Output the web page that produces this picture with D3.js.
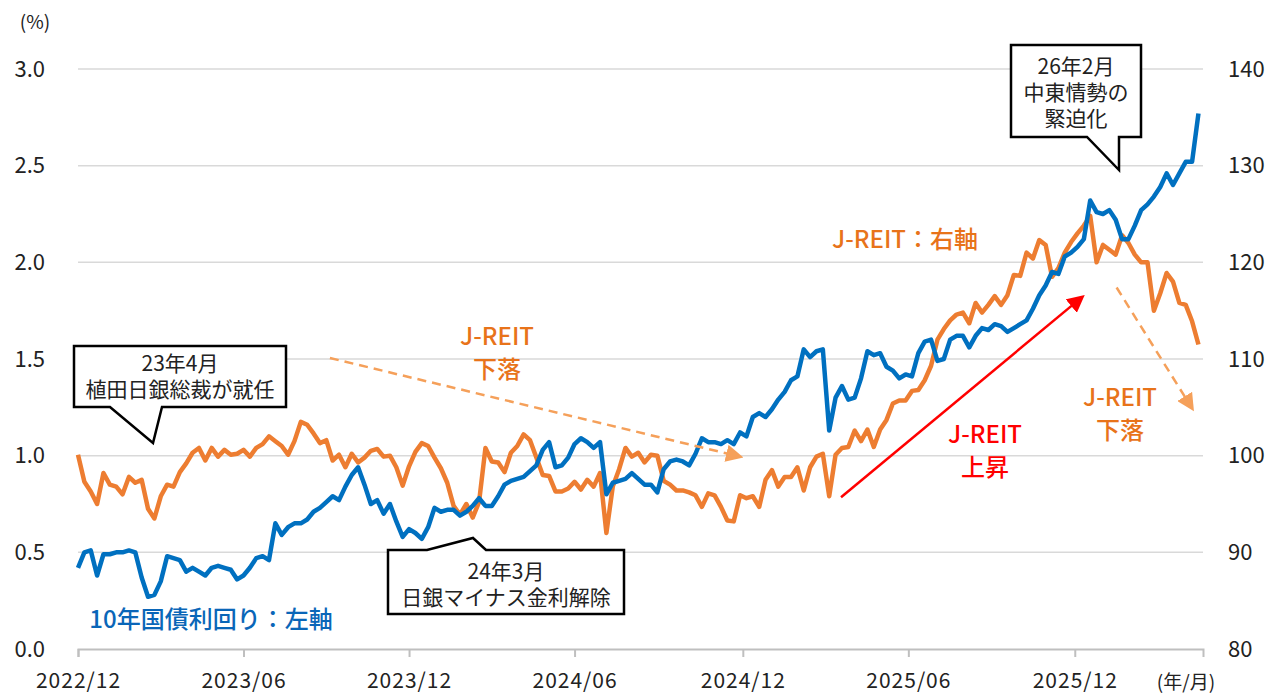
<!DOCTYPE html>
<html>
<head>
<meta charset="utf-8">
<script src="https://cdn.jsdelivr.net/npm/d3@7/dist/d3.min.js"></script>
<style>
  html, body { margin: 0; padding: 0; background: #fff; }
  svg { display: block; font-family: "Noto Sans CJK JP", "Noto Sans", sans-serif; }
</style>
</head>
<body>
<div id="chart"></div>
<script>
// weekly closes from 2022/12/30
const startDate = '2022-12-30'
const endDate = '2026-05-20'

// 10年国債利回り (%), left axis
const jgbYield = [
  0.42, 0.50, 0.51, 0.38, 0.49, 0.49, 0.50, 0.50, 0.51, 0.50,
  0.37, 0.27, 0.28, 0.35, 0.48, 0.47, 0.46, 0.40, 0.42, 0.40,
  0.38, 0.42, 0.43, 0.42, 0.41, 0.36, 0.38, 0.42, 0.47, 0.48,
  0.46, 0.65, 0.59, 0.63, 0.65, 0.65, 0.67, 0.71, 0.73, 0.76,
  0.79, 0.77, 0.84, 0.90, 0.94, 0.85, 0.75, 0.77, 0.70, 0.75,
  0.66, 0.58, 0.62, 0.60, 0.57, 0.63, 0.73, 0.71, 0.72, 0.72,
  0.69, 0.71, 0.74, 0.78, 0.74, 0.74, 0.79, 0.85, 0.87, 0.88,
  0.89, 0.92, 0.95, 1.03, 1.07, 0.94, 0.95, 0.99, 1.06, 1.09,
  1.07, 1.04, 1.07, 0.80, 0.86, 0.87, 0.88, 0.91, 0.88, 0.85,
  0.85, 0.81, 0.93, 0.97, 0.98, 0.97, 0.95, 1.01, 1.09, 1.07,
  1.07, 1.06, 1.08, 1.06, 1.12, 1.10, 1.20, 1.22, 1.20, 1.24,
  1.29, 1.33, 1.39, 1.41, 1.55, 1.51, 1.54, 1.55, 1.13, 1.30,
  1.36, 1.29, 1.30, 1.40, 1.54, 1.52, 1.53, 1.46, 1.44, 1.40,
  1.42, 1.41, 1.53, 1.59, 1.60, 1.49, 1.50, 1.60, 1.62, 1.62,
  1.56, 1.62, 1.66, 1.65, 1.68, 1.67, 1.64, 1.66, 1.68, 1.70,
  1.76, 1.83, 1.88, 1.95, 1.94, 2.03, 2.05, 2.08, 2.12, 2.32,
  2.26, 2.25, 2.27, 2.22, 2.12, 2.12, 2.19, 2.27, 2.30, 2.34,
  2.39, 2.46, 2.40, 2.46, 2.52, 2.52, 2.77
]

// J-REIT指数 (2022/12/30 = 100), right axis
const jreitIndex = [
  100.1, 97.3, 96.3, 95.0, 98.2, 97.0, 96.8, 96.0, 97.8, 97.2,
  97.5, 94.5, 93.5, 95.8, 97.0, 96.8, 98.3, 99.2, 100.3, 100.8,
  99.5, 100.8, 99.9, 100.6, 100.1, 100.2, 100.6, 99.9, 100.8, 101.2,
  102.0, 101.5, 101.0, 100.1, 101.5, 103.5, 103.2, 102.3, 101.3, 101.6,
  99.5, 100.1, 98.8, 100.2, 99.3, 99.8, 100.5, 100.7, 99.9, 100.0,
  98.8, 96.9, 98.9, 100.4, 101.3, 101.0, 99.8, 98.7, 97.2, 94.8,
  93.9, 95.0, 93.6, 95.2, 100.8, 99.4, 99.3, 98.3, 100.3, 101.0,
  102.2, 101.6, 99.8, 98.0, 97.9, 96.3, 96.3, 96.6, 97.3, 96.5,
  97.5, 96.8, 98.2, 92.0, 96.8, 98.6, 100.8, 99.9, 100.3, 99.3,
  100.1, 100.0, 97.4, 97.0, 96.4, 96.4, 96.2, 95.9, 94.7, 96.1,
  95.9, 94.7, 93.3, 93.2, 95.9, 95.6, 95.8, 94.7, 97.5, 98.5,
  96.8, 97.8, 97.8, 98.8, 96.4, 98.8, 99.9, 100.2, 95.8, 100.1,
  100.8, 100.9, 102.6, 101.5, 102.7, 100.9, 102.7, 103.7, 105.4, 105.7,
  105.7, 106.7, 106.8, 107.8, 109.3, 112.0, 113.1, 114.0, 114.6, 114.8,
  113.7, 115.8, 114.8, 115.6, 116.5, 115.6, 116.6, 118.7, 118.6, 121.0,
  120.4, 122.3, 121.8, 118.5, 119.4, 121.0, 122.1, 123.0, 123.8, 124.8,
  120.0, 121.8, 121.3, 120.8, 122.8, 122.0, 120.8, 120.0, 120.0, 115.0,
  116.8, 118.9, 118.0, 115.8, 115.6, 113.9, 111.5
]

const tickDates = ['2022-12-30', '2023-06-30', '2023-12-29', '2024-06-28', '2024-12-30', '2025-06-30', '2025-12-30']
const leftTicks = [0, 0.5, 1, 1.5, 2, 2.5, 3]
const rightTicks = [80, 90, 100, 110, 120, 130, 140]

// arrows in (date, J-REIT value)
const trendArrows = [
  { from: ['2023-10-03', 110.1], to: ['2024-12-27', 99.9], color: '#f5a05a', dash: '9,6', width: 2.5 },
  { from: ['2025-04-17', 95.7], to: ['2026-01-07', 116.4], color: '#ff0000', dash: null, width: 2.5 },
  { from: ['2026-02-14', 117.4], to: ['2026-05-08', 104.9], color: '#f5a05a', dash: '9,6', width: 2.5 }
]

const width = 1282,
      height = 695,
      plot = { left: 78, right: 1203, top: 69, bottom: 649 },
      orange = '#ed7d31',
      blue = '#0070c0',
      axisFont = 21

const parse = d3.timeParse('%Y-%m-%d')
const start = parse(startDate)
const dates = jgbYield.map((d, i) => d3.timeDay.offset(start, i * 7))

const svg = d3.select('#chart')
  .append('svg')
  .attr('width', width)
  .attr('height', height)

const x = d3.scaleTime()
  .domain([start, parse(endDate)])
  .range([plot.left, plot.right])
const yL = d3.scaleLinear().domain([0, 3]).range([plot.bottom, plot.top])
const yR = d3.scaleLinear().domain([80, 140]).range([plot.bottom, plot.top])

// grid
svg.append('g')
  .selectAll('line')
  .data(leftTicks.slice(1))
  .enter()
  .append('line')
    .attr('x1', plot.left)
    .attr('x2', plot.right)
    .attr('y1', d => yL(d))
    .attr('y2', d => yL(d))
    .attr('stroke', '#d9d9d9')
    .attr('stroke-width', 1.5)

// x axis
const xAxis = svg.append('g')
  .attr('transform', `translate(0, ${plot.bottom})`)
  .call(d3.axisBottom(x)
    .tickValues(tickDates.map(parse))
    .tickFormat(d3.timeFormat('%Y/%m'))
    .tickSize(8)
    .tickPadding(16))
xAxis.select('.domain').attr('stroke', '#bfbfbf').attr('stroke-width', 2)
xAxis.selectAll('.tick line').attr('stroke', '#bfbfbf').attr('stroke-width', 2)
xAxis.selectAll('.tick text')
  .attr('font-size', axisFont)
  .attr('letter-spacing', 1)
  .attr('fill', '#222')
  .attr('font-family', '"Noto Sans CJK JP", sans-serif')

const yAxisL = svg.append('g')
  .attr('transform', `translate(${plot.left}, 0)`)
  .call(d3.axisLeft(yL).tickValues(leftTicks).tickFormat(d3.format('.1f')).tickSize(0).tickPadding(33))
yAxisL.select('.domain').remove()
yAxisL.selectAll('.tick text')
  .attr('font-size', 22)
  .attr('fill', '#222')
  .attr('font-family', '"Noto Sans CJK JP", sans-serif')

const yAxisR = svg.append('g')
  .attr('transform', `translate(${plot.right}, 0)`)
  .call(d3.axisRight(yR).tickValues(rightTicks).tickSize(0).tickPadding(25))
yAxisR.select('.domain').remove()
yAxisR.selectAll('.tick text')
  .attr('font-size', 22)
  .attr('fill', '#222')
  .attr('font-family', '"Noto Sans CJK JP", sans-serif')

svg.append('text')
  .attr('x', 35).attr('y', 20)
  .attr('text-anchor', 'middle')
  .attr('dominant-baseline', 'central')
  .attr('font-size', 19)
  .attr('fill', '#222')
  .text('(%)')

svg.append('text')
  .attr('x', 1186).attr('y', 680)
  .attr('text-anchor', 'middle')
  .attr('dominant-baseline', 'central')
  .attr('font-size', 19)
  .attr('fill', '#222')
  .text('(年/月)')

// series
const jreitLine = d3.line()
  .x((d, i) => x(dates[i]))
  .y(d => yR(d))
const yieldLine = d3.line()
  .x((d, i) => x(dates[i]))
  .y(d => yL(d))

svg.append('path')
  .datum(jreitIndex)
  .attr('d', jreitLine)
  .attr('fill', 'none')
  .attr('stroke', orange)
  .attr('stroke-width', 4.5)
  .attr('stroke-linejoin', 'round')

svg.append('path')
  .datum(jgbYield)
  .attr('d', yieldLine)
  .attr('fill', 'none')
  .attr('stroke', blue)
  .attr('stroke-width', 4.5)
  .attr('stroke-linejoin', 'round')

// arrows
const defs = svg.append('defs')
trendArrows.forEach((a, i) => {
  defs.append('marker')
    .attr('id', `head${i}`)
    .attr('viewBox', '0 0 10 10')
    .attr('refX', 8)
    .attr('refY', 5)
    .attr('markerWidth', 7)
    .attr('markerHeight', 7)
    .attr('markerUnits', 'strokeWidth')
    .attr('orient', 'auto')
    .append('path')
      .attr('d', 'M0,0 L10,5 L0,10 Z')
      .attr('fill', a.color)
})

svg.append('g')
  .selectAll('line')
  .data(trendArrows)
  .enter()
  .append('line')
    .attr('x1', d => x(parse(d.from[0])))
    .attr('y1', d => yR(d.from[1]))
    .attr('x2', d => x(parse(d.to[0])))
    .attr('y2', d => yR(d.to[1]))
    .attr('stroke', d => d.color)
    .attr('stroke-width', d => d.width)
    .attr('stroke-dasharray', d => d.dash)
    .attr('marker-end', (d, i) => `url(#head${i})`)

// callouts
const callouts = [
  { path: 'M74,346 H286 V407 H162 L153,443 L110,407 H74 Z', cx: 180, lines: ['23年4月', '植田日銀総裁が就任'], y0: 362 },
  { path: 'M388,550 H427 L473,538 L486,550 H624 V614 H388 Z', cx: 506, lines: ['24年3月', '日銀マイナス金利解除'], y0: 570 },
  { path: 'M1011,45 H1141 V137 H1119 V170 L1087,137 H1011 Z', cx: 1076, lines: ['26年2月', '中東情勢の', '緊迫化'], y0: 65 }
]

callouts.forEach(c => {
  svg.append('path')
    .attr('d', c.path)
    .attr('fill', '#fff')
    .attr('stroke', '#000')
    .attr('stroke-width', 2.5)
  svg.append('g')
    .selectAll('text')
    .data(c.lines)
    .enter()
    .append('text')
      .attr('x', c.cx)
      .attr('y', (d, i) => c.y0 + i * 26)
      .attr('text-anchor', 'middle')
      .attr('dominant-baseline', 'central')
      .attr('font-size', 21)
      .attr('fill', '#222')
      .text(d => d)
})

// labels
const labels = [
  { x: 211, y: 617, lines: ['10年国債利回り：左軸'], color: '#0a66b8' },
  { x: 905, y: 237, lines: ['J-REIT：右軸'], color: '#e8731a' },
  { x: 497, y: 334, lines: ['J-REIT', '下落'], color: '#e8731a' },
  { x: 985, y: 432, lines: ['J-REIT', '上昇'], color: '#ff0000' },
  { x: 1120, y: 395, lines: ['J-REIT', '下落'], color: '#e8731a' }
]

labels.forEach(l => {
  svg.append('g')
    .selectAll('text')
    .data(l.lines)
    .enter()
    .append('text')
      .attr('x', l.x)
      .attr('y', (d, i) => l.y + i * 33)
      .attr('text-anchor', 'middle')
      .attr('dominant-baseline', 'central')
      .attr('font-size', 24)
      .attr('font-weight', 500)
      .attr('fill', l.color)
      .text(d => d)
})
</script>
</body>
</html>
